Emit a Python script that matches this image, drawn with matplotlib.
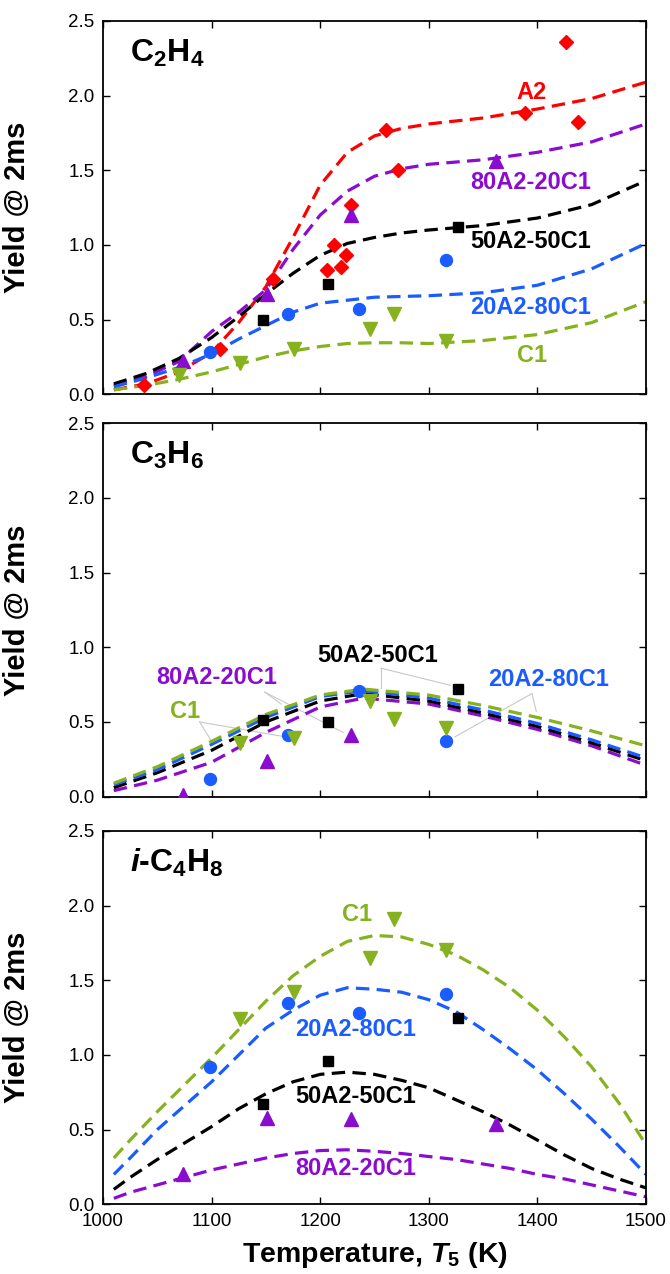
import numpy as np
import matplotlib
matplotlib.use('Agg')
import matplotlib.pyplot as plt

# Fuentes: Arial-compatible, negrita para etiquetas
plt.rcParams['font.family'] = ['Liberation Sans', 'DejaVu Sans']
plt.rcParams['mathtext.fontset'] = 'custom'
plt.rcParams['mathtext.default'] = 'regular'
plt.rcParams['mathtext.rm'] = 'Liberation Sans:bold'
plt.rcParams['mathtext.it'] = 'Liberation Sans:bold:italic'
plt.rcParams['mathtext.bf'] = 'Liberation Sans:bold'

# ---------------- datos ----------------
mixes = ['A2', '80A2-20C1', '50A2-50C1', '20A2-80C1', 'C1']
colors = ['#ff0000', '#8a0ccf', '#000000', '#1a5cff', '#85b21e']
markers = ['D', '^', 's', 'o', 'v']
msizes = [7.6, 9.4, 7.8, 8.6, 9.4]

# C2H4 - modelo
T_c2h4 = [1010, 1040, 1070, 1100, 1125, 1150, 1175, 1200, 1225, 1250, 1275, 1300, 1350, 1400, 1450, 1500]
c2h4_A2 = [0.03, 0.07, 0.15, 0.28, 0.48, 0.72, 1.05, 1.40, 1.62, 1.73, 1.78, 1.81, 1.85, 1.91, 1.98, 2.09]
c2h4_80 = [0.06, 0.12, 0.22, 0.42, 0.55, 0.70, 0.97, 1.20, 1.36, 1.46, 1.51, 1.54, 1.57, 1.62, 1.69, 1.81]
c2h4_50 = [0.07, 0.14, 0.24, 0.38, 0.52, 0.67, 0.81, 0.93, 1.01, 1.05, 1.08, 1.10, 1.13, 1.18, 1.27, 1.43]
c2h4_20 = [0.05, 0.11, 0.18, 0.27, 0.37, 0.46, 0.55, 0.61, 0.63, 0.65, 0.655, 0.66, 0.68, 0.73, 0.84, 1.01]
c2h4_C1 = [0.03, 0.06, 0.10, 0.15, 0.20, 0.25, 0.29, 0.32, 0.34, 0.345, 0.345, 0.34, 0.36, 0.40, 0.48, 0.62]

# C2H4 - experimentos
exp_c2h4_A2_T = [1038, 1108, 1157, 1206, 1213, 1219, 1224, 1228, 1261, 1272, 1389, 1426, 1437]
exp_c2h4_A2_y = [0.06, 0.30, 0.77, 0.83, 1.00, 0.85, 0.93, 1.27, 1.77, 1.50, 1.88, 2.36, 1.82]
exp_c2h4_80_T = [1074, 1151, 1228, 1362]
exp_c2h4_80_y = [0.22, 0.67, 1.20, 1.56]
exp_c2h4_50_T = [1147, 1207, 1327]
exp_c2h4_50_y = [0.50, 0.74, 1.12]
exp_c2h4_20_T = [1099, 1170, 1236, 1316]
exp_c2h4_20_y = [0.28, 0.54, 0.57, 0.90]
exp_c2h4_C1_T = [1070, 1126, 1176, 1246, 1268, 1316]
exp_c2h4_C1_y = [0.13, 0.21, 0.30, 0.44, 0.54, 0.36]

# C3H6 - modelo
T_c3h6 = [1010, 1050, 1100, 1150, 1200, 1240, 1300, 1350, 1400, 1450, 1500]
c3h6_80 = [0.04, 0.11, 0.23, 0.43, 0.60, 0.66, 0.62, 0.54, 0.45, 0.34, 0.21]
c3h6_50 = [0.06, 0.16, 0.31, 0.50, 0.64, 0.69, 0.64, 0.56, 0.47, 0.36, 0.24]
c3h6_20 = [0.08, 0.18, 0.35, 0.53, 0.67, 0.71, 0.66, 0.58, 0.49, 0.38, 0.26]
c3h6_C1 = [0.09, 0.20, 0.37, 0.55, 0.68, 0.72, 0.68, 0.61, 0.53, 0.44, 0.34]

# C3H6 - experimentos
exp_c3h6_80_T = [1074, 1151, 1228]
exp_c3h6_80_y = [0.01, 0.24, 0.41]
exp_c3h6_50_T = [1147, 1207, 1327]
exp_c3h6_50_y = [0.51, 0.50, 0.72]
exp_c3h6_20_T = [1099, 1170, 1236, 1316]
exp_c3h6_20_y = [0.12, 0.41, 0.71, 0.37]
exp_c3h6_C1_T = [1126, 1176, 1246, 1268, 1316]
exp_c3h6_C1_y = [0.36, 0.39, 0.64, 0.52, 0.46]

# i-C4H8 - modelo
T_c4h8 = [1010, 1025, 1050, 1075, 1100, 1125, 1150, 1175, 1200, 1225, 1250, 1275, 1300, 1325,
          1350, 1375, 1400, 1425, 1450, 1475, 1500]
c4h8_80 = [0.04, 0.08, 0.13, 0.18, 0.23, 0.27, 0.31, 0.34, 0.36, 0.365, 0.355, 0.34, 0.32, 0.30,
           0.27, 0.24, 0.20, 0.17, 0.13, 0.09, 0.05]
c4h8_50 = [0.10, 0.18, 0.30, 0.41, 0.52, 0.64, 0.74, 0.82, 0.87, 0.885, 0.87, 0.83, 0.78, 0.70,
           0.62, 0.53, 0.43, 0.33, 0.24, 0.17, 0.11]
c4h8_20 = [0.20, 0.31, 0.50, 0.66, 0.82, 1.00, 1.18, 1.30, 1.40, 1.45, 1.44, 1.42, 1.37, 1.29,
           1.17, 1.04, 0.90, 0.74, 0.57, 0.39, 0.20]
c4h8_C1 = [0.31, 0.43, 0.62, 0.80, 0.98, 1.17, 1.36, 1.53, 1.66, 1.76, 1.80, 1.79, 1.74, 1.67,
           1.57, 1.45, 1.30, 1.12, 0.92, 0.68, 0.40]

# i-C4H8 - experimentos
exp_c4h8_80_T = [1074, 1151, 1228, 1362]
exp_c4h8_80_y = [0.20, 0.58, 0.57, 0.54]
exp_c4h8_50_T = [1147, 1207, 1327]
exp_c4h8_50_y = [0.67, 0.96, 1.25]
exp_c4h8_20_T = [1099, 1170, 1236, 1316]
exp_c4h8_20_y = [0.92, 1.35, 1.28, 1.41]
exp_c4h8_C1_T = [1126, 1176, 1246, 1268, 1316]
exp_c4h8_C1_y = [1.24, 1.42, 1.65, 1.91, 1.70]

# etiquetas de las series (T, y) por panel
labels_c2h4 = {'A2': (1395, 2.02), '80A2-20C1': (1394, 1.42), '50A2-50C1': (1394, 1.02),
               '20A2-80C1': (1394, 0.58), 'C1': (1395, 0.26)}
labels_c3h6 = {'80A2-20C1': (1105, 0.80), '50A2-50C1': (1253, 0.945),
               '20A2-80C1': (1410, 0.785), 'C1': (1076, 0.57)}
labels_c4h8 = {'C1': (1234, 1.94), '20A2-80C1': (1233, 1.17),
               '50A2-50C1': (1233, 0.72), '80A2-20C1': (1233, 0.24)}
# lineas guia del panel C3H6: origen -> destinos
leaders_c3h6 = [((1089, 0.50), [(1100, 0.37), (1168, 0.40)]),
                ((1149, 0.70), [(1164, 0.62), (1221, 0.43)]),
                ((1256, 0.86), [(1256, 0.73), (1320, 0.745)]),
                ((1395, 0.69), [(1399, 0.57), (1324, 0.40)])]

panels = [
    {'title': 'C$_2$H$_4$', 'T': T_c2h4,
     'model': {'A2': c2h4_A2, '80A2-20C1': c2h4_80, '50A2-50C1': c2h4_50, '20A2-80C1': c2h4_20, 'C1': c2h4_C1},
     'exp': {'A2': (exp_c2h4_A2_T, exp_c2h4_A2_y), '80A2-20C1': (exp_c2h4_80_T, exp_c2h4_80_y),
             '50A2-50C1': (exp_c2h4_50_T, exp_c2h4_50_y), '20A2-80C1': (exp_c2h4_20_T, exp_c2h4_20_y),
             'C1': (exp_c2h4_C1_T, exp_c2h4_C1_y)},
     'labels': labels_c2h4, 'leaders': []},
    {'title': 'C$_3$H$_6$', 'T': T_c3h6,
     'model': {'80A2-20C1': c3h6_80, '50A2-50C1': c3h6_50, '20A2-80C1': c3h6_20, 'C1': c3h6_C1},
     'exp': {'80A2-20C1': (exp_c3h6_80_T, exp_c3h6_80_y), '50A2-50C1': (exp_c3h6_50_T, exp_c3h6_50_y),
             '20A2-80C1': (exp_c3h6_20_T, exp_c3h6_20_y), 'C1': (exp_c3h6_C1_T, exp_c3h6_C1_y)},
     'labels': labels_c3h6, 'leaders': leaders_c3h6},
    {'title': '$\\it{i}$-C$_4$H$_8$', 'T': T_c4h8,
     'model': {'80A2-20C1': c4h8_80, '50A2-50C1': c4h8_50, '20A2-80C1': c4h8_20, 'C1': c4h8_C1},
     'exp': {'80A2-20C1': (exp_c4h8_80_T, exp_c4h8_80_y), '50A2-50C1': (exp_c4h8_50_T, exp_c4h8_50_y),
             '20A2-80C1': (exp_c4h8_20_T, exp_c4h8_20_y), 'C1': (exp_c4h8_C1_T, exp_c4h8_C1_y)},
     'labels': labels_c4h8, 'leaders': []},
]

# ---------------- figura ----------------
fig = plt.figure(figsize=(6.7, 12.74), dpi=100)
bottoms = [0.6905, 0.3747, 0.0547]

for i, p in enumerate(panels):
    ax = fig.add_axes([0.1537, bottoms[i], 0.8104, 0.2931])

    # lineas guia (gris claro)
    for (a, ends) in p['leaders']:
        for e in ends:
            ax.plot([a[0], e[0]], [a[1], e[1]], color='#c8c8c8', lw=0.8, zorder=1)

    # curvas del modelo
    for name, y in p['model'].items():
        k = mixes.index(name)
        ax.plot(p['T'], y, color=colors[k], lw=2.3, dashes=(4.2, 2.3), zorder=2)

    # puntos experimentales
    for name, (tx, ty) in p['exp'].items():
        k = mixes.index(name)
        ax.plot(tx, ty, linestyle='none', marker=markers[k], ms=msizes[k],
                color=colors[k], mec=colors[k], zorder=3)

    # etiquetas de las mezclas
    for name, (tx, ty) in p['labels'].items():
        k = mixes.index(name)
        ax.text(tx, ty, name, color=colors[k], fontsize=17, fontweight='bold',
                ha='center', va='center', zorder=4)

    ax.text(0.05, 0.89, p['title'], transform=ax.transAxes, fontsize=23,
            fontweight='bold', va='baseline')

    ax.set_xlim(1000, 1500)
    ax.set_ylim(0, 2.5)
    ax.set_xticks(np.arange(1000, 1501, 100))
    ax.set_yticks(np.arange(0, 2.51, 0.5))
    ax.set_yticklabels(['%.1f' % v for v in np.arange(0, 2.51, 0.5)])
    ax.tick_params(direction='in', top=True, right=True, length=5, width=1,
                   labelsize=13.5, pad=6)
    for s in ax.spines.values():
        s.set_linewidth(1.3)
    ax.set_ylabel('Yield @ 2ms', fontsize=21, fontweight='bold')
    ax.yaxis.set_label_coords(-0.132, 0.5)
    if i < 2:
        ax.tick_params(labelbottom=False)
    else:
        ax.set_xlabel('Temperature, $\\it{T_5}$ (K)', fontsize=20.5, fontweight='bold')
        ax.xaxis.set_label_coords(0.5, -0.095)

fig.savefig('out.png', dpi=100)
